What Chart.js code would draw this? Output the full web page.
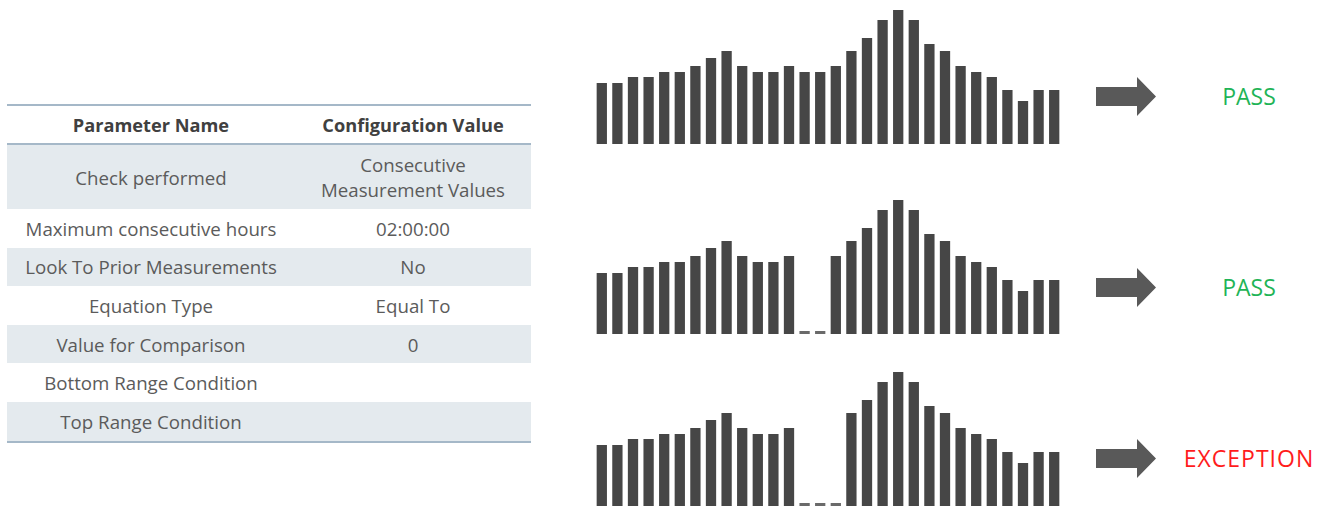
<!DOCTYPE html>
<html>
<head>
<meta charset="utf-8">
<script src="https://cdn.jsdelivr.net/npm/chart.js@4.4.0/dist/chart.umd.js"></script>
<style>
  body { margin: 0; width: 1323px; height: 506px; background: #fff; position: relative; overflow: hidden; font-family: "Open Sans", sans-serif; }
  table { position: absolute; left: 7px; top: 104px; width: 524px; border-collapse: collapse; color: #5b5b5b; font-size: 18.7px; }
  th { font-weight: bold; color: #404040; font-size: 18.2px; height: 37px; padding: 0; border-top: 2px solid #a5b8c8; border-bottom: 2px solid #a5b8c8; }
  td { text-align: center; padding: 0; height: 38.6px; line-height: 25px; }
  tr.shade td { background: #e4eaee; }
  tr:last-child td { border-bottom: 2px solid #a5b8c8; }
  .c1 { width: 288px; }
  .chart { position: absolute; left: 594px; }
  .arrow { position: absolute; left: 1096px; width: 61px; height: 39px; }
  .status { position: absolute; left: 1150px; width: 198px; text-align: center; font-family: "Open Sans", sans-serif; font-size: 23px; line-height: 30px; }
</style>
</head>
<body>
<table>
  <tr><th class="c1">Parameter Name</th><th>Configuration Value</th></tr>
  <tr class="shade"><td style="height:64px">Check performed</td><td>Consecutive<br>Measurement Values</td></tr>
  <tr><td>Maximum consecutive hours</td><td>02:00:00</td></tr>
  <tr class="shade"><td>Look To Prior Measurements</td><td>No</td></tr>
  <tr><td>Equation Type</td><td>Equal To</td></tr>
  <tr class="shade"><td>Value for Comparison</td><td>0</td></tr>
  <tr><td>Bottom Range Condition</td><td></td></tr>
  <tr class="shade"><td>Top Range Condition</td><td></td></tr>
</table>

<canvas id="c1" class="chart" width="468" height="134" style="top:10px"></canvas>
<canvas id="c2" class="chart" width="468" height="134" style="top:200px"></canvas>
<canvas id="c3" class="chart" width="468" height="134" style="top:372px"></canvas>

<svg class="arrow" style="top:77px" viewBox="0 0 61 39"><polygon points="0,10 41,10 41,0 60,19.5 41,39 41,29 0,29" fill="#595959"/></svg>
<svg class="arrow" style="top:268px" viewBox="0 0 61 39"><polygon points="0,10 41,10 41,0 60,19.5 41,39 41,29 0,29" fill="#595959"/></svg>
<svg class="arrow" style="top:439px" viewBox="0 0 61 39"><polygon points="0,10 41,10 41,0 60,19.5 41,39 41,29 0,29" fill="#595959"/></svg>

<div class="status" style="top:81px; color:#1fb457">PASS</div>
<div class="status" style="top:272px; color:#1fb457">PASS</div>
<div class="status" style="top:443px; color:#ff1c1c; letter-spacing:1px">EXCEPTION</div>

<script>
// hourly readings, 30 intervals
const hours = Array.from({ length: 30 }, (_, i) => 'H' + (i + 1));

// complete series
const readingsComplete = [61, 61, 67, 67, 72, 72, 78, 86, 93, 78, 72, 72, 78, 72, 72, 78, 93, 106, 124, 134, 124, 100, 93, 78, 72, 67, 54, 43, 54, 54];
// two consecutive zero readings (within 02:00:00 limit)
const readingsGap2 = [61, 61, 67, 67, 72, 72, 78, 86, 93, 78, 72, 72, 78, 0, 0, 78, 93, 106, 124, 134, 124, 100, 93, 78, 72, 67, 54, 43, 54, 54];
// three consecutive zero readings (exceeds limit)
const readingsGap3 = [61, 61, 67, 67, 72, 72, 78, 86, 93, 78, 72, 72, 78, 0, 0, 0, 93, 106, 124, 134, 124, 100, 93, 78, 72, 67, 54, 43, 54, 54];

const yMax = 134;

function makeChart(id, values) {
    const ctx = document.getElementById(id);
    return new Chart(ctx, {
        type: 'bar',
        data: {
            labels: hours,
            datasets: [{
                data: values,
                backgroundColor: values.map(v => v === 0 ? '#6a6a6a' : '#464646'),
                borderWidth: 0,
                categoryPercentage: 1,
                barPercentage: 0.66,
                minBarLength: 3,
                clip: false,
            }]
        },
        options: {
            responsive: false,
            animation: false,
            layout: { padding: 0 },
            plugins: { legend: { display: false }, tooltip: { enabled: false } },
            scales: {
                x: { display: false },
                y: { display: false, min: 0, max: yMax }
            }
        }
    });
}

makeChart('c1', readingsComplete);
makeChart('c2', readingsGap2);
makeChart('c3', readingsGap3);
</script>
</body>
</html>
